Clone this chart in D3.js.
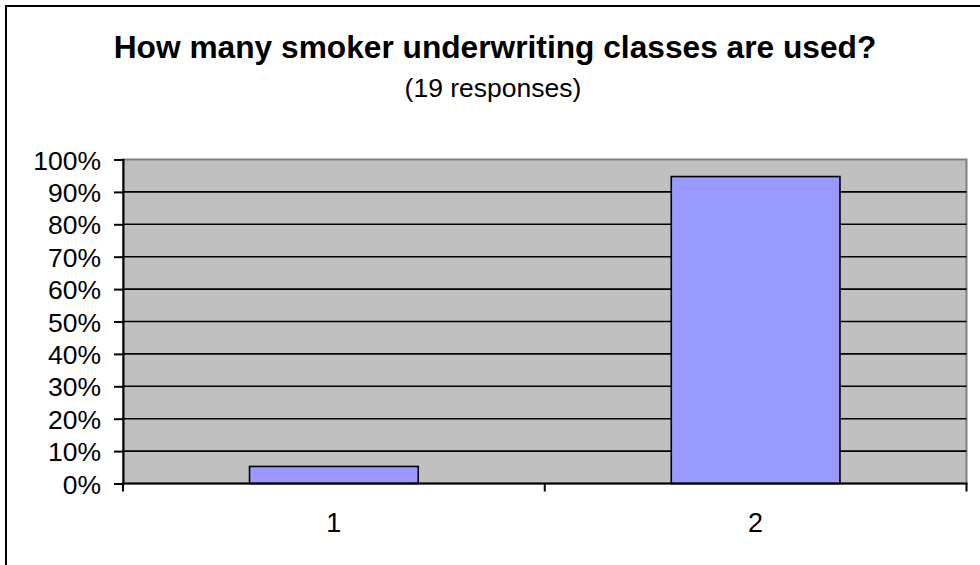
<!DOCTYPE html>
<html>
<head>
<meta charset="utf-8">
<script src="https://cdn.jsdelivr.net/npm/d3@7"></script>
<style>
  html, body { margin: 0; padding: 0; background: #fff; }
  svg { display: block; }
  text { font-family: Arial, "Liberation Sans", sans-serif; fill: #000; }
</style>
</head>
<body>
<svg id="chart" width="980" height="565"></svg>
<script>
// Survey answers: number of smoker underwriting classes
const categories = ["1", "2"];
const shares = [1 / 19, 18 / 19];
const yTicks = [0, 0.1, 0.2, 0.3, 0.4, 0.5, 0.6, 0.7, 0.8, 0.9, 1.0];
const titleText = "How many smoker underwriting classes are used?";
const subtitleText = "(19 responses)";

const svg = d3.select("#chart");
const plot = { left: 123, right: 966.5, top: 159.5, bottom: 483.5 };

// Outer chart frame
svg.append("rect")
  .attr("x", 6).attr("y", 6)
  .attr("width", 990).attr("height", 580)
  .attr("fill", "#fff")
  .attr("stroke", "#000").attr("stroke-width", 2);

const x = d3.scaleBand()
  .domain(categories)
  .range([plot.left, plot.right])
  .paddingInner(0.6)
  .paddingOuter(0.3);

const y = d3.scaleLinear()
  .domain([0, 1])
  .range([plot.bottom, plot.top]);

// Plot background
svg.append("rect")
  .attr("x", plot.left).attr("y", plot.top)
  .attr("width", plot.right - plot.left)
  .attr("height", plot.bottom - plot.top)
  .attr("fill", "#c0c0c0")
  .attr("stroke", "#808080").attr("stroke-width", 2);

// Horizontal gridlines
svg.append("g")
  .selectAll("line")
  .data(yTicks.filter(d => d > 0 && d < 1))
  .join("line")
  .attr("x1", plot.left).attr("x2", plot.right)
  .attr("y1", d => y(d)).attr("y2", d => y(d))
  .attr("stroke", "#000").attr("stroke-width", 1.6);

// Bars
svg.append("g")
  .selectAll("rect")
  .data(categories.map((c, i) => ({ c, v: shares[i] })))
  .join("rect")
  .attr("x", d => x(d.c))
  .attr("width", x.bandwidth())
  .attr("y", d => y(d.v))
  .attr("height", d => y(0) - y(d.v))
  .attr("fill", "#9999ff")
  .attr("stroke", "#000").attr("stroke-width", 1.6);

// Y axis
const yAxis = d3.axisLeft(y)
  .tickValues(yTicks)
  .tickFormat(d3.format(".0%"))
  .tickSize(9)
  .tickPadding(13);
const gy = svg.append("g")
  .attr("transform", `translate(${plot.left},0)`)
  .call(yAxis);
gy.select(".domain").attr("stroke", "#000").attr("stroke-width", 2);
gy.selectAll(".tick line").attr("stroke", "#000").attr("stroke-width", 2);
gy.selectAll(".tick text")
  .attr("font-size", 26.5)
  .attr("font-family", "Arial, 'Liberation Sans', sans-serif")
  .attr("dy", "0.36em");

// X axis: ticks at category boundaries
const gx = svg.append("g")
  .attr("transform", `translate(0,${plot.bottom})`);
gx.append("line")
  .attr("x1", plot.left - 1).attr("x2", plot.right + 1)
  .attr("stroke", "#000").attr("stroke-width", 2);
const step = x.step();
const bounds = d3.range(categories.length + 1).map(i => plot.left + i * step);
gx.selectAll("line.tick")
  .data(bounds)
  .join("line")
  .attr("class", "tick")
  .attr("x1", d => d).attr("x2", d => d)
  .attr("y1", 0).attr("y2", 8)
  .attr("stroke", "#000").attr("stroke-width", 2);
gx.selectAll("text")
  .data(categories)
  .join("text")
  .attr("x", d => x(d) + x.bandwidth() / 2)
  .attr("y", 48.5)
  .attr("text-anchor", "middle")
  .attr("font-size", 27)
  .text(d => d);

// Titles
svg.append("text")
  .attr("x", 495).attr("y", 58)
  .attr("text-anchor", "middle")
  .attr("font-size", 31.7)
  .attr("font-weight", "bold")
  .text(titleText);
svg.append("text")
  .attr("x", 493).attr("y", 96.5)
  .attr("text-anchor", "middle")
  .attr("font-size", 26.5)
  .text(subtitleText);
</script>
</body>
</html>
